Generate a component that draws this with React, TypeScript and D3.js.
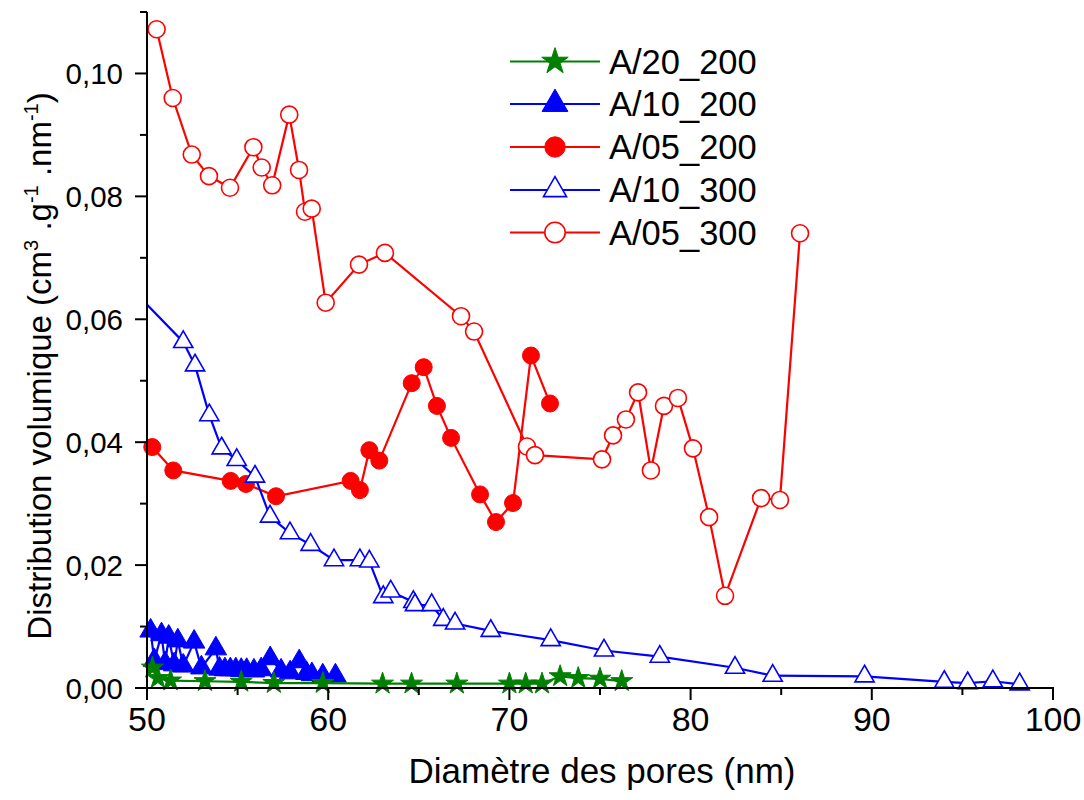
import React from "react";
import * as d3 from "d3";

// ---- data (x: pore diameter nm, y: volume distribution) ----
const A20_200: [number, number][] = [
  [50.3, 0.0033], [50.6, 0.0016], [51.3, 0.0012], [53.2, 0.0011], [55.2, 0.001],
  [57.0, 0.0008], [59.7, 0.0008], [63.0, 0.0007], [64.6, 0.0007], [67.1, 0.0007],
  [70.0, 0.0007], [70.9, 0.0007], [71.8, 0.0007], [72.8, 0.0019], [73.8, 0.0016],
  [75.0, 0.0015], [76.2, 0.0011],
];

const A10_200: [number, number][] = [
  [50.2, 0.0093], [50.4, 0.0045], [50.8, 0.0087], [51.0, 0.004], [51.2, 0.0083],
  [51.5, 0.0038], [51.7, 0.0077], [52.0, 0.0036], [52.6, 0.0075], [53.0, 0.0033],
  [53.8, 0.0064], [54.0, 0.0031], [54.3, 0.003], [54.6, 0.003], [54.9, 0.003],
  [55.2, 0.0029], [55.5, 0.0029], [55.9, 0.0028], [56.3, 0.003], [56.8, 0.0048],
  [57.4, 0.0028], [57.9, 0.0025], [58.4, 0.0043], [58.8, 0.0024], [59.1, 0.0022],
  [59.7, 0.002], [60.4, 0.002],
];

const A05_200: [number, number][] = [
  [50.29, 0.0392], [51.45, 0.0354], [54.62, 0.0337], [55.46, 0.0332], [57.12, 0.0312],
  [61.24, 0.0337], [61.75, 0.0322], [62.27, 0.0387], [62.82, 0.037], [64.61, 0.0496],
  [65.27, 0.0522], [66.0, 0.0459], [66.78, 0.0407], [68.38, 0.0315], [69.26, 0.027],
  [70.2, 0.0301], [71.19, 0.0541], [72.24, 0.0463],
];

const A10_300: [number, number][] = [
  [49.3, 0.0645], [52.0, 0.0563], [52.65, 0.0525], [53.44, 0.0444], [54.12, 0.039],
  [54.95, 0.0371], [55.96, 0.0344], [56.79, 0.0279], [57.89, 0.0252], [59.03, 0.0233],
  [60.32, 0.0208], [61.75, 0.0208], [62.27, 0.0206], [63.04, 0.0148], [63.45, 0.0157],
  [64.7, 0.014], [64.79, 0.0135], [65.71, 0.0135], [66.35, 0.0111], [67.0, 0.0105],
  [68.97, 0.0093], [72.28, 0.0078], [75.22, 0.0061], [78.3, 0.0051], [82.45, 0.0033],
  [84.53, 0.002], [89.6, 0.0019], [94.0, 0.001], [95.29, 0.0008], [96.68, 0.0011],
  [98.16, 0.0006],
];

const A05_300: [number, number][] = [
  [50.53, 0.1072], [51.42, 0.096], [52.47, 0.0868], [53.42, 0.0833], [54.58, 0.0814],
  [55.87, 0.088], [56.33, 0.0847], [56.91, 0.0818], [57.85, 0.0933], [58.39, 0.0843],
  [58.72, 0.0775], [59.09, 0.078], [59.86, 0.0627], [61.7, 0.0689], [63.13, 0.0708],
  [67.33, 0.0605], [68.05, 0.058], [70.97, 0.0393], [71.41, 0.0379], [75.11, 0.0372],
  [75.72, 0.0411], [76.43, 0.0437], [77.1, 0.0481], [77.81, 0.0354], [78.53, 0.0459],
  [79.3, 0.0472], [80.13, 0.039], [81.02, 0.0278], [81.9, 0.015], [83.89, 0.0309],
  [84.93, 0.0306], [86.04, 0.074],
];

const xMajorTicks = [50, 60, 70, 80, 90, 100];
const xMinorTicks = [55, 65, 75, 85, 95];
const yMajorTicks = [0, 0.02, 0.04, 0.06, 0.08, 0.1];
const yMinorTicks = [0.01, 0.03, 0.05, 0.07, 0.09, 0.11];
const yTickLabels = ["0,00", "0,02", "0,04", "0,06", "0,08", "0,10"];

type Sym = "star" | "triUp" | "circle" | "triOpen" | "circleOpen";
const seriesDefs: { name: string; data: [number, number][]; color: string; sym: Sym }[] = [
  { name: "A/20_200", data: A20_200, color: "#008000", sym: "star" },
  { name: "A/10_200", data: A10_200, color: "#0000FF", sym: "triUp" },
  { name: "A/05_200", data: A05_200, color: "#FF0000", sym: "circle" },
  { name: "A/10_300", data: A10_300, color: "#0000FF", sym: "triOpen" },
  { name: "A/05_300", data: A05_300, color: "#FF0000", sym: "circleOpen" },
];
const drawOrder = ["A/10_200", "A/20_200", "A/05_200", "A/10_300", "A/05_300"];

const FONT = "'Liberation Sans', Arial, sans-serif";

function symbolPath(sym: Sym, scale = 1): string {
  const s = scale * scale;
  if (sym === "star") return d3.symbol(d3.symbolStar, 150 * s)()!;
  if (sym === "triUp") return d3.symbol(d3.symbolTriangle, 200 * s)()!;
  if (sym === "triOpen") return d3.symbol(d3.symbolTriangle, 160 * s)()!;
  return d3.symbol(d3.symbolCircle, 227 * s)()!;
}

function Marker({ sym, color, x, y, scale = 1 }: { sym: Sym; color: string; x: number; y: number; scale?: number }) {
  const open = sym === "triOpen" || sym === "circleOpen";
  return (
    <path
      d={symbolPath(sym, scale)}
      transform={`translate(${x},${y})`}
      fill={open ? "#fff" : color}
      stroke={color}
      strokeWidth={open ? 1.6 : 1}
    />
  );
}

export default function App() {
  const W = 1084, H = 800;
  const x0 = 147, x1 = 1053, y0 = 688, y1 = 12;
  const x = d3.scaleLinear().domain([50, 100]).range([x0, x1]);
  const y = d3.scaleLinear().domain([0, 0.11]).range([y0, y1]);
  const line = d3.line<[number, number]>().x((d) => x(d[0])).y((d) => y(d[1]));

  const ordered = drawOrder.map((n) => seriesDefs.find((s) => s.name === n)!);
  const legendRows = [61.5, 104, 147, 190, 232.5];

  return (
    <svg width={W} height={H} style={{ position: "absolute", left: 0, top: 0, background: "#fff" }} fontFamily={FONT}>
      <defs>
        <clipPath id="plotclip">
          <rect x={x0} y={y1} width={x1 - x0} height={y0 - y1} />
        </clipPath>
      </defs>
      <rect x={0} y={0} width={W} height={H} fill="#fff" />

      {ordered.map((s) => (
        <g key={s.name}>
          <path d={line(s.data)!} fill="none" stroke={s.color} strokeWidth={2.2} clipPath="url(#plotclip)" />
          {s.data
            .filter((d) => d[0] >= 50 && d[0] <= 100)
            .map((d, i) => (
              <Marker key={i} sym={s.sym} color={s.color} x={x(d[0])} y={y(d[1])} />
            ))}
        </g>
      ))}

      {/* axes */}
      <line x1={x0} x2={x0} y1={y1} y2={y0 + 1} stroke="#000" strokeWidth={2} />
      <line x1={x0 - 1} x2={x1 + 1} y1={y0} y2={y0} stroke="#000" strokeWidth={2} />
      {xMajorTicks.map((t) => (
        <g key={"xm" + t}>
          <line x1={x(t)} x2={x(t)} y1={y0} y2={y0 + 12} stroke="#000" strokeWidth={2} />
          <text x={x(t)} y={731} fontSize={34} textAnchor="middle">{t}</text>
        </g>
      ))}
      {xMinorTicks.map((t) => (
        <line key={"xn" + t} x1={x(t)} x2={x(t)} y1={y0} y2={y0 + 7} stroke="#000" strokeWidth={2} />
      ))}
      {yMajorTicks.map((t, i) => (
        <g key={"ym" + t}>
          <line x1={x0 - 12} x2={x0} y1={y(t)} y2={y(t)} stroke="#000" strokeWidth={2} />
          <text x={123} y={y(t) + 10.5} fontSize={29.5} textAnchor="end">{yTickLabels[i]}</text>
        </g>
      ))}
      {yMinorTicks.map((t) => (
        <line key={"yn" + t} x1={x0 - 7} x2={x0} y1={y(t)} y2={y(t)} stroke="#000" strokeWidth={2} />
      ))}

      {/* axis titles */}
      <text x={602} y={783} fontSize={35} textAnchor="middle">Diamètre des pores (nm)</text>
      <text transform="translate(51,366) rotate(-90)" fontSize={33} textAnchor="middle">
        Distribution volumique (cm
        <tspan fontSize={20} dy={-13}>3</tspan>
        <tspan dy={13}> .g</tspan>
        <tspan fontSize={20} dy={-13}>-1</tspan>
        <tspan dy={13}> .nm</tspan>
        <tspan fontSize={20} dy={-13}>-1</tspan>
        <tspan dy={13}>)</tspan>
      </text>

      {/* legend */}
      {seriesDefs.map((s, i) => (
        <g key={"lg" + s.name}>
          <line x1={510} x2={600} y1={legendRows[i]} y2={legendRows[i]} stroke={s.color} strokeWidth={2.2} />
          <Marker sym={s.sym} color={s.color} x={555} y={legendRows[i]} scale={1.2} />
          <text x={609} y={legendRows[i] + 12} fontSize={34.5}>{s.name}</text>
        </g>
      ))}
    </svg>
  );
}
